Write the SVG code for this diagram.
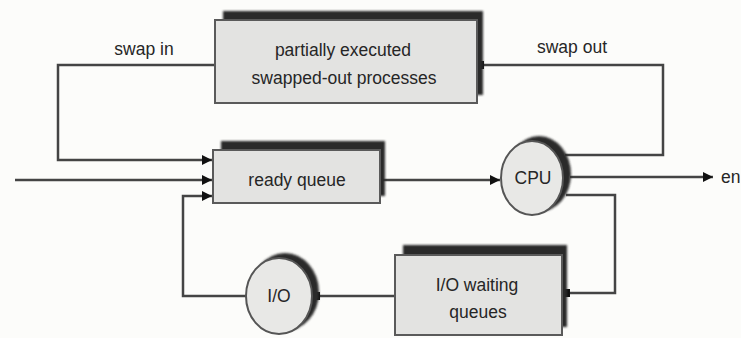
<svg xmlns="http://www.w3.org/2000/svg" width="741" height="338" viewBox="0 0 741 338">
<defs>
<style>
.bg{fill:#fcfcfa}
.back{fill:#2a2a2a;filter:url(#soft)}
.front{fill:#e3e3e1;stroke:#5a5a5a;stroke-width:2}
.cfront{fill:#e8e8e6;stroke:#555;stroke-width:2}
.lbl{font-family:"Liberation Sans",Arial,sans-serif;font-size:17.5px;fill:#262626;text-anchor:middle}
.edge{fill:none;stroke:#444;stroke-width:2.5}
.sq{fill:#111}
</style>
<filter id="soft" x="-10%" y="-10%" width="120%" height="120%"><feGaussianBlur stdDeviation="1.2"/></filter>
<marker id="arr" viewBox="0 0 10 10" refX="10" refY="5" markerWidth="4.2" markerHeight="4.2" orient="auto" markerUnits="strokeWidth">
<path d="M0,0 L10,5 L0,10 Z" fill="#111"/>
</marker>
</defs>
<rect class="bg" x="0" y="0" width="741" height="338"/>

<g id="connectors">
<path class="edge" d="M215,65 H58 V160 H212" marker-end="url(#arr)"/>
<path class="edge" d="M483,65 H663 V155 H565"/>
<path class="edge" d="M15,180 H212" marker-end="url(#arr)"/>
<path class="edge" d="M383,180 H500" marker-end="url(#arr)"/>
<path class="edge" d="M570,177 H713" marker-end="url(#arr)"/>
<path class="edge" d="M566,195 H615 V293 H567"/>
<path class="edge" d="M395,296 H318"/>
<path class="edge" d="M246,296 H183 V196 H212" marker-end="url(#arr)"/>
<rect class="sq" x="477" y="61" width="7" height="8"/>
<rect class="sq" x="563" y="289" width="7" height="8"/>
<rect class="sq" x="313" y="292" width="7" height="8"/>
</g>

<g id="swapped">
<rect class="back" x="223" y="11" width="260" height="84"/>
<rect class="front" x="215" y="20" width="262" height="83"/>
<text class="lbl" x="343" y="56">partially executed</text>
<text class="lbl" x="344" y="84">swapped-out processes</text>
</g>

<g id="ready">
<rect class="back" x="221" y="141" width="164" height="55"/>
<rect class="front" x="213" y="150" width="167" height="53"/>
<text class="lbl" x="297" y="186">ready queue</text>
</g>

<g id="cpu">
<ellipse class="back" cx="539" cy="174" rx="32" ry="38"/>
<ellipse class="cfront" cx="532" cy="178" rx="31" ry="37"/>
<text class="lbl" x="533" y="184">CPU</text>
</g>

<g id="iowait">
<rect class="back" x="403" y="245" width="164" height="82"/>
<rect class="front" x="395" y="255" width="167" height="80"/>
<text class="lbl" x="477" y="291">I/O waiting</text>
<text class="lbl" x="478" y="318">queues</text>
</g>

<g id="io">
<ellipse class="back" cx="285" cy="292" rx="34" ry="39"/>
<ellipse class="cfront" cx="279" cy="296" rx="33" ry="38"/>
<text class="lbl" x="279" y="302">I/O</text>
</g>

<g id="labels">
<text class="lbl" x="144" y="55">swap in</text>
<text class="lbl" x="572" y="53">swap out</text>
<text class="lbl" x="721" y="183" style="text-anchor:start">en</text>
</g>
</svg>
